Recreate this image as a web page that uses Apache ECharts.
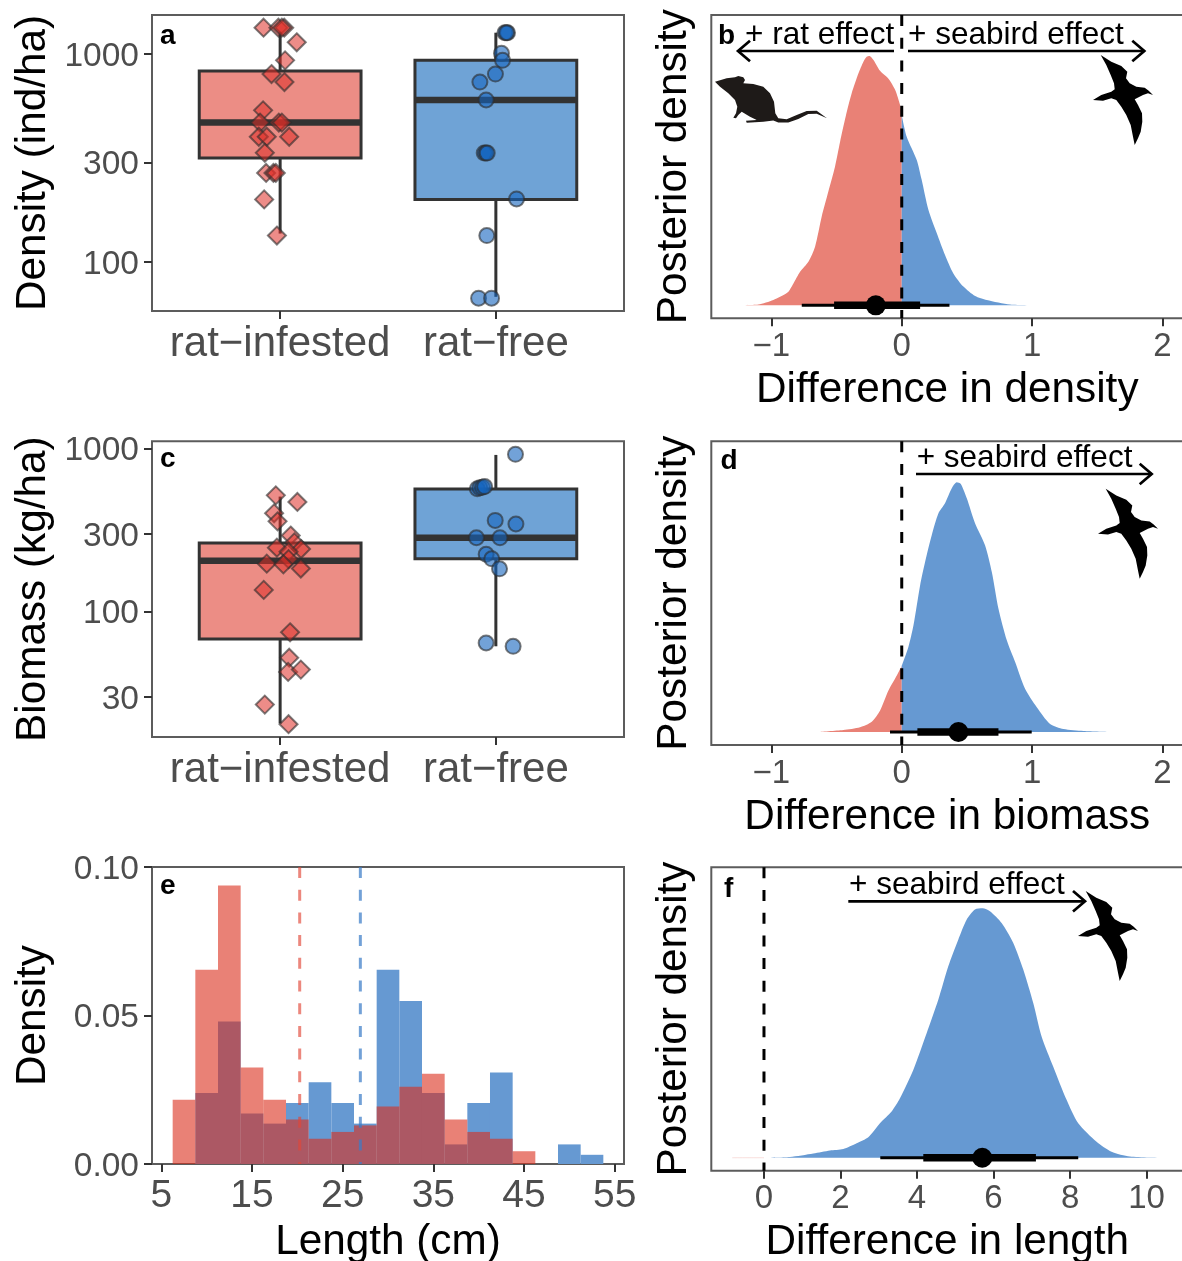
<!DOCTYPE html>
<html><head><meta charset="utf-8">
<style>html,body{margin:0;padding:0;background:#fff;overflow:hidden}#c{width:1182px;height:1261px}</style>
<script src="https://cdn.jsdelivr.net/npm/echarts@6/dist/echarts.min.js"></script>
</head><body><div id="c"></div>
<script>
const categories=['rat\u2212infested','rat\u2212free'];
const densityTicks=[100,300,1000];
const biomassTicks=[30,100,300,1000];
const diffTicks=[-1,0,1,2];
const lengthDiffTicks=[0,2,4,6,8,10];
const histXTicks=[5,15,25,35,45,55];
const histYTicks=[0,0.05,0.1];

// box stats: [category position, lower whisker, q1, median, q3, upper whisker]
const densityBoxRat=[1,137,316,468,829,1280];
const densityBoxFree=[2,68,200,601,932,1266];
const biomassBoxRat=[1,20.6,68,205,264,508];
const biomassBoxFree=[2,61.3,211,284,566,915];

const densityRatX=[.923,.992,1.019,1.008,1.077,1.023,.960,1.020,.921,.907,.994,1.008,.901,.938,1.042,.929,.935,.969,.980,.926,.985];
const densityRatY=[1338,1338,1338,1338,1138,932,801,733,536,468,468,468,400,400,400,335,268,268,268,200,134];
const densityFreeX=[2.042,2.054,2.049,2.026,2.031,1.998,1.926,1.955,1.946,1.954,1.960,2.096,1.958,1.920,1.980];
const densityFreeY=[1266,1266,1266,1007,932,801,733,601,334,334,334,201,134,67,67];
const biomassRatX=[.980,1.080,.972,.988,1.049,.985,1.066,1.097,1.039,1.039,.938,1.015,1.096,.924,1.046,1.042,1.037,1.096,.929,1.039];
const biomassRatY=[517,471,401,358,293,247,266,242,233,210,197,195,184,136,74.7,52.2,42.7,44.1,26.9,20.4];
const biomassFreeX=[2.091,1.914,1.926,1.938,1.948,1.997,2.093,1.910,2.019,1.955,1.981,2.017,1.955,2.080];
const biomassFreeY=[923,568,576,579,585,363,345,284,284,225,211,183,64.2,61.3];

const histRatBins=[7.5,10,12.5,15,17.5,20,22.5,25,27.5,30,32.5,35,37.5,40,42.5,45];
const histRatVals=[.0216,.0654,.0938,.0325,.0216,.0150,.0085,.0108,.0130,.0194,.0260,.0304,.0150,.0108,.0085,.0043];
const histFreeBins=[10,12.5,15,17.5,20,22.5,25,27.5,30,32.5,35,37.5,40,42.5,50,52.5];
const histFreeVals=[.0239,.0480,.0170,.0136,.0205,.0275,.0205,.0136,.0654,.0549,.0239,.0066,.0205,.0308,.0066,.0031];
const histMeanRat=20.26, histMeanFree=26.95;

const bRedX=[-1.271,-1.1,-.985,-.877,-.831,-.78,-.716,-.665,-.614,-.563,-.512,-.473,-.43,-.384,-.332,-.294,-.269,-.248,-.217,-.166,-.102,-.051,-.013,0];
const bRedY=[0,.003,.021,.051,.088,.135,.175,.235,.356,.456,.556,.656,.757,.85,.93,.977,.997,1,.984,.94,.908,.864,.803,.763];
const bBlueX=[0,.038,.115,.153,.205,.269,.332,.396,.473,.563,.652,.831,1.049];
const bBlueY=[.763,.676,.583,.503,.382,.289,.202,.128,.075,.037,.021,.003,0];
const bInterval=[-.767,-.519,-.199,.141,.366];

const dRedX=[-.639,-.448,-.32,-.23,-.166,-.102,-.038,0];
const dRedY=[0,.008,.019,.041,.086,.166,.226,.264];
const dBlueX=[0,.051,.09,.141,.179,.23,.281,.332,.384,.422,.453,.499,.563,.639,.691,.742,.806,.87,.946,1.036,1.138,1.24,1.394,1.598];
const dBlueY=[.264,.34,.427,.588,.681,.788,.875,.916,.976,1,.993,.936,.835,.748,.641,.494,.367,.28,.173,.099,.032,.012,.004,0];
const dInterval=[-.09,.12,.435,.742,.997];

const fRedX=[-.828,0];
const fRedY=[0,0];
const fBlueX=[0,.679,1.289,1.725,2.073,2.422,2.726,3.031,3.336,3.554,3.902,4.251,4.556,4.817,5.078,5.296,5.514,5.714,5.906,6.211,6.516,6.777,7.038,7.256,7.561,7.909,8.214,8.693,9.085,9.564,10.436];
const fBlueY=[0,.003,.017,.029,.035,.058,.082,.138,.185,.238,.352,.499,.633,.767,.874,.954,.995,1,.988,.941,.861,.754,.62,.486,.365,.232,.138,.064,.024,.005,0];
const fInterval=[3.04,4.164,5.706,7.108,8.214];

const RED='#E98176',BLUE='#6699D2',BOXRED='#EC8D85',BOXBLUE='#6FA3D6';
const FONT='"Liberation Sans",Arial,sans-serif';
const L=v=>Math.log10(v);
const zip=(a,b)=>a.map((v,i)=>[v,b[i]]);
const grids=[
 {left:152,top:15,width:472,height:296},
 {left:711.3,top:15,width:472,height:303.3},
 {left:152,top:441.3,width:472,height:295.7},
 {left:711.3,top:441.3,width:472,height:303.7},
 {left:152,top:867,width:472,height:297},
 {left:711.3,top:867.3,width:472,height:303.4}
].map(g=>({...g,show:true,borderColor:'#5c5c5c',borderWidth:2,backgroundColor:'transparent',containLabel:false,outerBoundsMode:'none'}));

function xAxis(i,min,max,ticks,fmt,name,opts={}){
 return {gridIndex:i,type:'value',position:'bottom',min,max,splitLine:{show:false},axisLine:{show:false,onZero:false},
  axisTick:{show:true,length:8,lineStyle:{color:'#333',width:2},customValues:ticks},
  axisLabel:{show:true,customValues:ticks,formatter:fmt,color:'#4D4D4D',fontFamily:FONT,fontSize:opts.size||33,margin:opts.margin||12,hideOverlap:false,showMinLabel:true,showMaxLabel:true},
  name,nameLocation:'middle',nameGap:opts.gap||51,nameMoveOverlap:false,nameTextStyle:{color:'#000',fontFamily:FONT,fontSize:42.3}};
}
function yAxis(i,min,max,ticks,fmt,name,gap){
 const hasTicks=!!ticks;
 return {gridIndex:i,type:'value',position:'left',min,max,splitLine:{show:false},axisLine:{show:false,onZero:false},
  axisTick:hasTicks?{show:true,length:8,lineStyle:{color:'#333',width:2},customValues:ticks}:{show:false},
  axisLabel:hasTicks?{show:true,customValues:ticks,formatter:v=>'{v|'+fmt(v)+'}',margin:13,hideOverlap:false,showMinLabel:true,showMaxLabel:true,
    rich:{v:{color:'#4D4D4D',fontFamily:FONT,fontSize:33.5,padding:[5,0,0,0]}}}:{show:false},
  name,nameLocation:'middle',nameGap:gap,nameRotate:90,nameMoveOverlap:false,nameTextStyle:{color:'#000',fontFamily:FONT,fontSize:42.3}};
}
const logFmt=v=>String(Math.round(Math.pow(10,v)));
const catFmt=v=>categories[Math.round(v)-1];
const minusFmt=v=>String(v).replace('-','\u2212');

function box(i,stats,fill){
 const d=[stats[0],L(stats[1]),L(stats[2]),L(stats[3]),L(stats[4]),L(stats[5])];
 return {type:'custom',xAxisIndex:i,yAxisIndex:i,data:[d],encode:{x:0,y:[1,2,3,4,5]},silent:true,clip:false,
  renderItem(p,api){
   const x=api.value(0),hw=.375;
   const lo=api.coord([x,api.value(1)]),q1=api.coord([x,api.value(2)]),m=api.coord([x,api.value(3)]),q3=api.coord([x,api.value(4)]),hi=api.coord([x,api.value(5)]);
   const l=api.coord([x-hw,api.value(3)])[0],r=api.coord([x+hw,api.value(3)])[0];
   const st={stroke:'#333',lineWidth:3,fill:null};
   return {type:'group',children:[
    {type:'line',shape:{x1:lo[0],y1:lo[1],x2:lo[0],y2:q1[1]},style:st},
    {type:'line',shape:{x1:hi[0],y1:hi[1],x2:hi[0],y2:q3[1]},style:st},
    {type:'rect',shape:{x:l,y:q3[1],width:r-l,height:q1[1]-q3[1]},style:{stroke:'#333',lineWidth:3,fill}},
    {type:'line',shape:{x1:l,y1:m[1],x2:r,y2:m[1]},style:{stroke:'#333',lineWidth:6.5}}
   ]};
  }};
}
function pts(i,xs,ys,symbol,size,color){
 return {type:'scatter',xAxisIndex:i,yAxisIndex:i,symbol,symbolSize:size,silent:true,clip:false,z:6,
  data:zip(xs,ys.map(L)),itemStyle:{color,borderColor:'rgba(45,45,45,.62)',borderWidth:2,opacity:1}};
}
function area(i,xs,ys,color){
 return {type:'line',xAxisIndex:i,yAxisIndex:i,data:zip(xs,ys),symbol:'none',smooth:.25,silent:true,z:2,
  lineStyle:{width:0,color},areaStyle:{color,opacity:1}};
}
function seg(i,pairs,color,width,type,z){
 return {type:'line',xAxisIndex:i,yAxisIndex:i,data:pairs,symbol:'none',silent:true,clip:false,z:z||4,
  lineStyle:{color,width,type:type||'solid',cap:'butt'}};
}
function interval(i,v){
 return [seg(i,[[v[0],0],[v[4],0]],'#000',3,null,5),seg(i,[[v[1],0],[v[3],0]],'#000',7.5,null,5),
  {type:'scatter',xAxisIndex:i,yAxisIndex:i,data:[[v[2],0]],symbol:'circle',symbolSize:20,silent:true,clip:false,z:6,itemStyle:{color:'#000',opacity:1}}];
}
const DASH=[11,11.7];
const series=[
 box(0,densityBoxRat,BOXRED),box(0,densityBoxFree,BOXBLUE),
 pts(0,densityRatX,densityRatY,'diamond',18,'rgba(222,45,38,.55)'),
 pts(0,densityFreeX,densityFreeY,'circle',15,'rgba(20,100,190,.6)'),

 area(1,bRedX,bRedY,RED),area(1,bBlueX,bBlueY,BLUE),
 seg(1,[[0,1.164],[0,-.052]],'#000',3,DASH),...interval(1,bInterval),

 box(2,biomassBoxRat,BOXRED),box(2,biomassBoxFree,BOXBLUE),
 pts(2,biomassRatX,biomassRatY,'diamond',18,'rgba(222,45,38,.55)'),
 pts(2,biomassFreeX,biomassFreeY,'circle',15,'rgba(20,100,190,.6)'),

 area(3,dRedX,dRedY,RED),area(3,dBlueX,dBlueY,BLUE),
 seg(3,[[0,1.164],[0,-.052]],'#000',3,DASH),...interval(3,dInterval),

 {type:'bar',xAxisIndex:4,yAxisIndex:4,data:zip(histFreeBins,histFreeVals),barWidth:22.67,barGap:'-100%',silent:true,itemStyle:{color:BLUE}},
 {type:'bar',xAxisIndex:4,yAxisIndex:4,data:zip(histRatBins,histRatVals),barWidth:22.67,barGap:'-100%',silent:true,itemStyle:{color:'rgba(218,45,27,.6)'}},
 seg(4,[[histMeanRat,.1],[histMeanRat,0]],'rgba(226,70,55,.65)',3,DASH),
 seg(4,[[histMeanFree,.1],[histMeanFree,0]],'rgba(60,125,200,.72)',3,DASH),

 {...area(5,fRedX,fRedY,RED),lineStyle:{width:1,color:'rgba(233,129,118,.25)'}},
 area(5,fBlueX,fBlueY,BLUE),
 seg(5,[[0,1.164],[0,-.052]],'#000',3,DASH),...interval(5,fInterval)
];

const xAxes=[
 xAxis(0,.406,2.594,[1,2],catFmt,'',{size:42,margin:12}),
 xAxis(1,-1.461,2.16,diffTicks,minusFmt,'Difference in density'),
 xAxis(2,.406,2.594,[1,2],catFmt,'',{size:42,margin:12}),
 xAxis(3,-1.461,2.16,diffTicks,minusFmt,'Difference in biomass'),
 xAxis(4,3.97,56.03,histXTicks,v=>String(v),'Length (cm)',{size:39,margin:13,gap:57}),
 xAxis(5,-1.377,10.96,lengthDiffTicks,v=>String(v),'Difference in length')
];
const yAxes=[
 yAxis(0,1.7644,3.1875,densityTicks.map(L),logFmt,'Density (ind/ha)',98),
 yAxis(1,-.052,1.164,null,null,'Posterior density',16),
 yAxis(2,1.231,3.045,biomassTicks.map(L),logFmt,'Biomass (kg/ha)',98),
 yAxis(3,-.052,1.164,null,null,'Posterior density',16),
 yAxis(4,0,.1,histYTicks,v=>v.toFixed(2),'Density',98),
 yAxis(5,-.052,1.164,null,null,'Posterior density',16)
];

function txt(t,x,base,size,bold){
 return {type:'text',silent:true,z:50,style:{text:t,x,y:base-0.25*size,textVerticalAlign:'middle',font:(bold?'bold ':'')+size+'px '+FONT,fill:'#000'}};
}
function arrow(x1,x2,y,dir){
 const head=12*dir;
 return {type:'group',silent:true,z:50,children:[
  {type:'line',shape:{x1,y1:y,x2,y2:y},style:{stroke:'#000',lineWidth:2.7}},
  {type:'polyline',shape:{points:[[x2-head,y-10.3],[x2,y],[x2-head,y+10.3]]},style:{stroke:'#000',lineWidth:2.7,fill:null}}
 ]};
}
const birdShape=[[12.7,5],[23.3,11.7],[33.3,16],[39.3,21.7],[38,28.3],[41.7,33.3],[48.3,36.7],[56.7,37.7],[60.7,40.7],[65,45],[60,43.3],[55,45],[46.7,49.3],[50,55],[54,63.3],[54.3,71.7],[52.7,81.7],[50,88.3],[46.7,95],[45,86.7],[42.7,75],[38.3,65],[33.3,56.7],[28.3,50],[23.3,48.3],[15,50.7],[5,50],[13.3,45],[23.3,41.7],[26.7,39.3],[26,33.3],[22.7,25],[18.3,15]];
function bird(dx,dy){return {type:'polygon',silent:true,z:50,x:1088+dx,y:50+dy,shape:{points:birdShape},style:{fill:'#000'}};}
const ratShape=[[5,11.7],[16.7,8.3],[25,7.3],[28.3,6],[33.3,7.3],[35,10],[33.3,13.3],[43.3,14],[53.3,16.7],[60,23.3],[64,31.7],[65.3,43.3],[68.3,48.3],[76.7,49.3],[86.7,45],[96.7,41],[106.7,40.7],[117,48.3],[106.7,43.7],[98.3,44],[88.3,49],[78.3,52.5],[68.3,52.5],[63.3,50.5],[53.3,51.7],[36.7,52.7],[36,50.7],[46.7,50],[40,46.7],[31.7,41.7],[28.3,45],[26,48.3],[23.3,47.7],[26,43.3],[27.3,36.7],[25,30],[18.3,23.3],[10,16.7]];
const graphic=[
 txt('a',160,43,28,true),txt('b',718,43,28,true),txt('c',160,466,28,true),txt('d',720.5,468,28,true),txt('e',160,893,28,true),txt('f',724,896,28,true),
 txt('+ rat effect',745,43,31.5),txt('+ seabird effect',908,43,31.5),
 txt('+ seabird effect',916.7,466,31.5),txt('+ seabird effect',849,893,31.5),
 arrow(894,738,51,-1),arrow(908,1144.3,51,1),arrow(916,1151.7,474,1),arrow(848.3,1085,901.3,1),
 bird(0,0),bird(5,433.7),bird(-15,836),
 {type:'polygon',silent:true,z:50,x:710,y:70,shape:{points:ratShape},style:{fill:'#1E1A18'}}
];

const chart=echarts.init(document.getElementById('c'),null,{renderer:'canvas',width:1182,height:1261});
chart.setOption({animation:false,backgroundColor:'#fff',grid:grids,xAxis:xAxes,yAxis:yAxes,series,graphic:{elements:graphic},tooltip:{show:false},legend:{show:false}});
</script></body></html>
